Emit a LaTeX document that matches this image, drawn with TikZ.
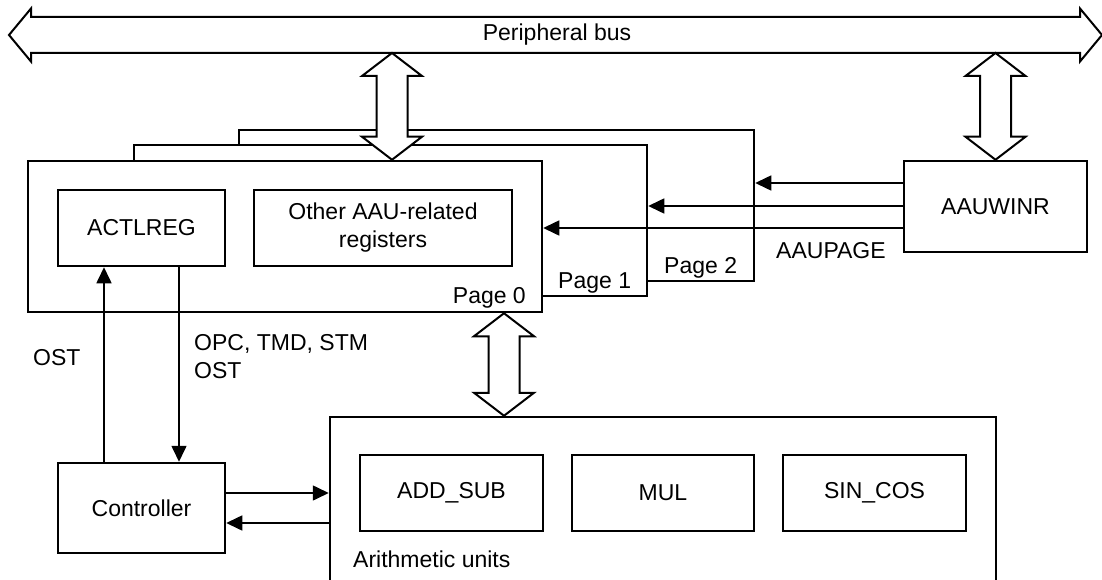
\documentclass[tikz,border=0pt]{standalone}
\usepackage{fontspec}
\setmainfont{Liberation Sans}
\usetikzlibrary{arrows.meta,calc}
\newcommand\lblfont{\fontsize{23}{28}\selectfont}
\newcommand\fatarrow[2]{%
  \draw[fat] let \p1=(#1), \p2=(#2) in
    (\x1,\y1) -- (\x1+30pt,\y1-23pt) -- (\x1+15.5pt,\y1-23pt) -- (\x1+15.5pt,\y2+23pt)
    -- (\x1+30pt,\y2+23pt) -- (\x1,\y2) -- (\x1-30pt,\y2+23pt) -- (\x1-15.5pt,\y2+23pt)
    -- (\x1-15.5pt,\y1-23pt) -- (\x1-30pt,\y1-23pt) -- cycle;}
\begin{document}
\begin{tikzpicture}[x=1pt,y=-1pt,
  box/.style={draw,line width=2.5pt,fill=white,inner sep=0pt,font=\lblfont},
  lbl/.style={font=\lblfont,inner sep=0pt},
  sig/.style={line width=1.6pt,-{Triangle[length=16pt,width=15pt]}},
  fat/.style={line width=2pt,fill=white,line join=miter}]
\useasboundingbox (0,0) rectangle (1102,580);
\clip (0,0) rectangle (1102,580);
\fill[white] (0,0) rectangle (1102,580);

% peripheral bus
\draw[fat] (9,35) -- (31,8.5) -- (31,17) -- (1080,17) -- (1080,8.5) -- (1102,35)
  -- (1080,61.5) -- (1080,53) -- (31,53) -- (31,61.5) -- cycle;
\node[lbl] (bus) at (557,35) {Peripheral bus};
\coordinate (busS) at (557,53);

% register pages
\node[box,minimum width=515pt,minimum height=151pt] (page2) at (496.5,205.5) {};
\node[box,minimum width=513pt,minimum height=151pt] (page1) at (390.5,220.5) {};
\node[box,minimum width=514pt,minimum height=151pt] (page0) at (285,236.5) {};
\node[box,minimum width=167pt,minimum height=76pt] (actl) at (141.5,228) {ACTLREG};
\node[box,minimum width=258pt,minimum height=76pt,align=center] (other) at (383,228) {Other AAU-related\\registers};
\node[lbl,anchor=base east] (p0) at (526,303) {Page 0};
\node[lbl,anchor=base west] (p1) at (558,288) {Page 1};
\node[lbl,anchor=base west] (p2) at (664,273) {Page 2};

% AAUWINR
\node[box,minimum width=183pt,minimum height=91pt] (winr) at (995.5,206.5) {AAUWINR};
\node[lbl,anchor=base west] (aaupage) at (776,258) {AAUPAGE};

% controller and arithmetic units
\node[box,minimum width=167pt,minimum height=90pt] (ctrl) at (141.5,508) {Controller};
\node[box,minimum width=666pt,minimum height=190pt] (arith) at (663,512) {};
\node[box,minimum width=183pt,minimum height=76pt] (addsub) at (451.5,493) {ADD\_SUB};
\node[box,minimum width=182pt,minimum height=76pt] (mul) at (663,493) {MUL};
\node[box,minimum width=183pt,minimum height=76pt] (sincos) at (874.5,493) {SIN\_COS};
\node[lbl,anchor=base west] (arlbl) at (353,567) {Arithmetic units};

% fat bus arrows
\coordinate (xa) at (392,0);
\coordinate (xb) at (995.5,0);
\coordinate (xc) at (504,0);
\fatarrow{xa |- busS}{xa |- page0.north}
\fatarrow{xb |- busS}{xb |- winr.north}
\fatarrow{xc |- page0.south}{xc |- arith.north}

% signal arrows
\coordinate (cu) at ([xshift=-37.5pt]ctrl.north);
\coordinate (cd) at ([xshift=37.5pt]actl.south);
\draw[sig] (cu) -- (cu |- actl.south);
\draw[sig] (cd) -- (cd |- ctrl.north);
\coordinate (cr1) at ([yshift=15pt]ctrl.east);
\coordinate (cr2) at ([yshift=-15pt]ctrl.east);
\draw[sig] (cr1) -- (cr1 -| arith.west);
\draw[sig] (cr2 -| arith.west) -- (cr2);
\coordinate (w2) at ([yshift=23.5pt]winr.west);
\coordinate (w1) at ([yshift=0.5pt]winr.west);
\coordinate (w0) at ([yshift=-21.5pt]winr.west);
\draw[sig] (w2) -- (w2 -| page2.east);
\draw[sig] (w1) -- (w1 -| page1.east);
\draw[sig] (w0) -- (w0 -| page0.east);

\node[lbl,anchor=base west] (ost) at (33,365) {OST};
\node[lbl,anchor=base west] (opc) at (194,350) {OPC, TMD, STM};
\node[lbl,anchor=base west] (ost2) at (194,378) {OST};
\end{tikzpicture}
\end{document}
